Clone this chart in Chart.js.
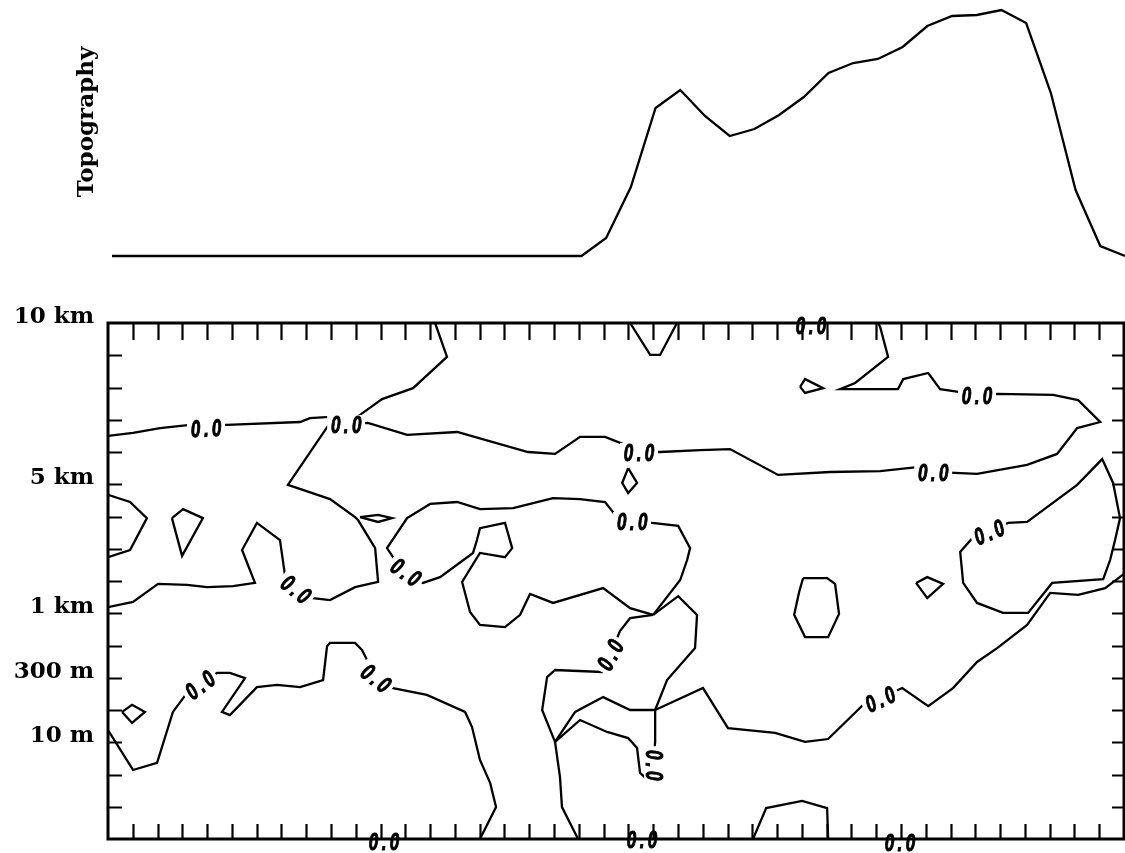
<!DOCTYPE html>
<html>
<head>
<meta charset="utf-8">
<script src="https://cdn.jsdelivr.net/npm/chart.js@4.4.1/dist/chart.umd.min.js"></script>
<style>
  html, body { margin: 0; padding: 0; background: #fff; }
  #wrap { position: relative; width: 1125px; height: 853px; }
  canvas { position: absolute; left: 0; top: 0; }
</style>
</head>
<body>
<div id="wrap">
  <canvas id="section" width="1125" height="853"></canvas>
  <canvas id="topo" width="1125" height="280"></canvas>
</div>
<script>
// Terrain profile along the cross-section (grid column, height in m)
const topoX = [0, 19, 20, 21, 22, 23, 24, 25, 26, 27, 28, 29, 30, 31, 32, 33, 34, 35, 36, 37, 38, 39, 40, 41];
const topoHeight = [0, 0, 180, 690, 1480, 1660, 1400, 1200, 1270, 1410, 1590, 1830, 1930, 1970, 2090, 2300, 2400, 2410, 2460, 2330, 1630, 660, 100, 0];

// Height axis: level index -> label
const heightTicks = [16, 11, 7, 5, 3];
const heightLabels = ['10 km', '5 km', '1 km', '300 m', '10 m'];

// Zero contours, [grid column, level] vertices
const openContours = [
  [[0,12.50],[1.01,12.59],[2.10,12.74],[3.31,12.84],[4.80,12.84],[7.75,12.93],[8.15,13.05],[8.96,13.09],[9.61,12.87],[10.49,12.90],[12.07,12.53],[14.09,12.62],[16.95,12.00],[18.04,11.94],[19.05,12.47],[20.06,12.47],[20.87,12.22],[21.47,12.00],[22.28,12.00],[23.89,12.06],[25.10,12.09],[27.04,11.29],[29.14,11.38],[31.16,11.41],[32.65,11.53],[33.30,11.38],[34.18,11.35],[35.07,11.32],[37.09,11.60],[38.30,11.94],[39.11,12.74],[40.04,12.93],[39.15,13.61],[38.14,13.77],[35.88,13.80],[35.07,13.71],[34.39,13.86],[33.58,13.95],[33.10,14.45],[32.09,14.26],[31.88,13.95],[29.54,13.95],[30.15,14.14],[31.48,14.95],[31.16,15.88],[31.08,16]],
  [[13.20,16],[13.68,14.95],[12.31,13.98],[11.06,13.64],[10.17,13.15],[9.61,12.87],[8.96,12.90],[7.26,10.98],[8.96,10.54],[9.97,9.98],[10.09,9.89],[10.78,9.02],[10.90,7.97],[9.97,7.81],[8.96,7.41],[8.27,7.47],[7.59,7.75],[7.14,8.19],[6.94,9.27],[6.01,9.80],[5.41,8.96],[5.93,7.94],[5.05,7.84],[4.00,7.81],[3.19,7.88],[2.02,7.91],[1.01,7.35],[0,7.19]],
  [[22.00,6.95],[21.07,7.16],[19.98,7.78],[17.96,7.32],[17.03,7.60],[16.63,6.95],[16.02,6.57],[15.01,6.64],[14.61,7.04],[14.29,7.97],[15.01,8.87],[16.02,8.74],[16.31,9.02],[16.02,9.80],[15.01,9.64],[14.89,9.27],[14.73,8.87],[13.40,8.12],[12.71,7.94],[12.03,8.28],[11.50,8.74],[11.26,9.02],[12.07,9.95],[13.00,10.39],[14.09,10.45],[15.01,10.23],[16.35,10.26],[17.96,10.57],[19.05,10.54],[20.06,10.45],[20.54,9.98],[21.15,9.89],[21.96,9.80],[23.01,9.71],[23.49,9.02],[23.37,8.65],[23.09,8.03],[22.00,6.95]],
  [[22.00,6.95],[21.07,6.85],[20.66,6.45],[20.26,5.71],[19.94,5.18],[18.04,5.24],[17.72,5.02],[17.52,4.00],[18.04,3.01],[18.24,1.92],[18.32,0.99],[18.97,0]],
  [[18.04,3.01],[18.85,3.94],[19.98,4.40],[21.07,4.00],[22.08,4.00]],
  [[18.04,3.01],[19.05,3.69],[20.14,3.32],[20.99,3.13],[21.35,2.82],[21.47,2.05],[21.79,1.83],[22.00,2.29],[22.08,3.01],[22.08,4.00]],
  [[22.00,6.95],[23.01,7.53],[23.77,6.95],[23.69,5.92],[22.56,4.93],[22.08,4.00]],
  [[22.08,4.00],[24.01,4.68],[25.02,3.44],[26.92,3.29],[28.13,3.01],[29.06,3.10],[30.55,4.22],[31.16,4.37],[32.05,4.68],[33.10,4.12],[34.10,4.68],[35.07,5.49],[35.88,5.92],[37.09,6.64],[38.02,7.63],[39.15,7.57],[40.24,7.78],[41,8.22]],
  [[0,3.38],[1.01,2.14],[1.98,2.36],[2.62,3.94],[3.19,4.53],[3.71,4.78],[4.40,5.15],[4.92,5.15],[5.53,4.99],[4.60,3.94],[4.92,3.84],[6.01,4.71],[6.82,4.78],[7.75,4.71],[8.68,4.93],[8.84,5.98],[8.96,6.08],[9.97,6.08],[10.25,5.86],[10.82,4.99],[11.50,4.68],[12.87,4.47],[14.41,3.94],[14.69,3.47],[15.01,2.45],[15.42,1.74],[15.66,0.99],[15.01,0]],
  [[0,10.67],[0.89,10.45],[1.57,9.95],[0.89,8.96],[0,8.74]],
  [[21.07,16],[21.88,15.01],[22.28,15.01],[22.96,16]],
  [[26.03,0],[26.56,0.96],[28.01,1.18],[29.02,0.96],[29.06,0]]
];

const closedContours = [
  [[35.60,9.52],[36.32,9.80],[37.09,9.83],[39.11,10.98],[40.12,11.78],[40.56,11.04],[40.84,9.95],[40.64,9.27],[40.44,8.65],[40.16,8.06],[38.10,7.94],[37.13,7.01],[36.12,7.01],[35.07,7.32],[34.51,7.94],[34.39,8.90],[34.91,9.36]],
  [[2.58,9.95],[3.03,10.23],[3.83,9.95],[2.99,8.78]],
  [[10.17,9.98],[10.90,10.05],[11.46,9.95],[10.90,9.83]],
  [[20.99,11.50],[21.35,11.04],[20.99,10.73],[20.75,11.04]],
  [[27.93,14.02],[28.13,14.26],[28.86,13.98],[28.13,13.83]],
  [[28.05,8.09],[29.02,8.09],[29.34,7.91],[29.50,6.98],[29.06,6.26],[28.13,6.26],[27.69,6.95],[27.89,7.66]],
  [[32.61,7.94],[33.06,8.12],[33.70,7.91],[33.06,7.47]],
  [[0.57,3.94],[0.97,4.16],[1.49,3.94],[0.97,3.60]]
];

// Where the "0.0" contour labels sit: [column, level, text angle in degrees]
const contourLabels = [
  [3.96,12.74,-3],[9.61,12.84,0],[21.43,11.97,0],[33.30,11.35,0],[35.07,13.74,0],
  [21.15,9.83,0],[35.55,9.52,-22],[7.59,7.75,38],[12.03,8.28,35],[20.26,5.71,-62],
  [22.04,2.29,90],[10.82,4.99,38],[3.71,4.78,-38],[31.16,4.34,-24],
  [28.37,15.91,0],[11.14,-0.09,0],[21.55,-0.03,0],[31.96,-0.12,0]
];

const X_MAX = 41;
const LEVELS = 16;

function drawZeroLabel(ctx, px, py, deg, boxed) {
  ctx.save();
  ctx.translate(px, py);
  ctx.rotate(deg * Math.PI / 180);
  if (boxed) {
    ctx.fillStyle = '#fff';
    ctx.fillRect(-19, -10, 38, 20);
  }
  ctx.fillStyle = '#000';
  ctx.strokeStyle = '#000';
  ctx.lineWidth = 0.7;
  ctx.scale(1, 1.4);
  ctx.font = 'italic bold 17px "Liberation Sans"';
  ctx.textAlign = 'center';
  ctx.textBaseline = 'alphabetic';
  [['0', -10.5], ['.', 0], ['0', 10.5]].forEach(([ch, dx]) => {
    ctx.fillText(ch, dx, 6);
    ctx.strokeText(ch, dx, 6);
  });
  ctx.restore();
}

// Box, inward ticks, height labels and contour labels
const sectionFrame = {
  id: 'sectionFrame',
  afterDatasetsDraw(chart) {
    const { ctx, chartArea: a } = chart;
    const xs = chart.scales.x, ys = chart.scales.y;
    ctx.save();

    contourLabels.forEach(([cx, cy, deg]) => {
      const boxed = cy > 0.3 && cy < LEVELS - 0.3;
      drawZeroLabel(ctx, xs.getPixelForValue(cx), ys.getPixelForValue(cy), deg, boxed);
    });

    ctx.strokeStyle = '#000';
    ctx.lineWidth = 3;
    ctx.strokeRect(a.left, a.top, a.right - a.left, a.bottom - a.top);

    ctx.lineWidth = 2.2;
    ctx.beginPath();
    for (let i = 1; i < X_MAX; i++) {
      const px = Math.round(xs.getPixelForValue(i)) + 0.5;
      ctx.moveTo(px, a.top); ctx.lineTo(px, a.top + 17);
      ctx.moveTo(px, a.bottom); ctx.lineTo(px, a.bottom - 15);
    }
    for (let j = 1; j < LEVELS; j++) {
      const py = Math.round(ys.getPixelForValue(j)) + 0.5;
      ctx.moveTo(a.left, py); ctx.lineTo(a.left + 14, py);
      ctx.moveTo(a.right, py); ctx.lineTo(a.right - 12, py);
    }
    ctx.stroke();

    ctx.fillStyle = '#000';
    ctx.font = 'bold 23px "DejaVu Serif"';
    ctx.textAlign = 'right';
    ctx.textBaseline = 'middle';
    heightTicks.forEach((lv, k) => {
      ctx.fillText(heightLabels[k], a.left - 14, ys.getPixelForValue(lv) - 6);
    });
    ctx.restore();
  }
};

const lineStyle = { showLine: true, pointRadius: 0, borderColor: '#000', borderWidth: 2.3, tension: 0, fill: false };
const toPoints = line => line.map(([x, y]) => ({ x, y }));

const sectionSets = openContours.map(l => Object.assign({ data: toPoints(l) }, lineStyle))
  .concat(closedContours.map(l => Object.assign({ data: toPoints(l.concat([l[0]])) }, lineStyle)));

new Chart(document.getElementById('section'), {
  type: 'scatter',
  data: { datasets: sectionSets },
  options: {
    responsive: false,
    animation: false,
    events: [],
    layout: { padding: { left: 108, right: 1, top: 323, bottom: 14 } },
    plugins: { legend: { display: false }, tooltip: { enabled: false } },
    scales: {
      x: { type: 'linear', min: 0, max: X_MAX, display: false },
      y: { type: 'linear', min: 0, max: LEVELS, display: false }
    }
  },
  plugins: [sectionFrame]
});

// Rotated panel title
const topoTitle = {
  id: 'topoTitle',
  afterDraw(chart) {
    const ctx = chart.ctx;
    ctx.save();
    ctx.translate(87, 122);
    ctx.rotate(-Math.PI / 2);
    ctx.font = 'bold 23px "DejaVu Serif"';
    ctx.fillStyle = '#000';
    ctx.textAlign = 'center';
    ctx.textBaseline = 'middle';
    ctx.fillText('Topography', 0, 0);
    ctx.restore();
  }
};

new Chart(document.getElementById('topo'), {
  type: 'line',
  data: {
    datasets: [{
      data: topoX.map((x, i) => ({ x, y: topoHeight[i] })),
      borderColor: '#000',
      borderWidth: 2.3,
      pointRadius: 0,
      tension: 0,
      fill: false,
      clip: false
    }]
  },
  options: {
    responsive: false,
    animation: false,
    events: [],
    layout: { padding: { left: 112, right: 0, top: 10, bottom: 24 } },
    plugins: { legend: { display: false }, tooltip: { enabled: false } },
    scales: {
      x: { type: 'linear', min: 0, max: X_MAX, display: false },
      y: { min: 0, max: 2460, display: false }
    }
  },
  plugins: [topoTitle]
});
</script>
</body>
</html>
